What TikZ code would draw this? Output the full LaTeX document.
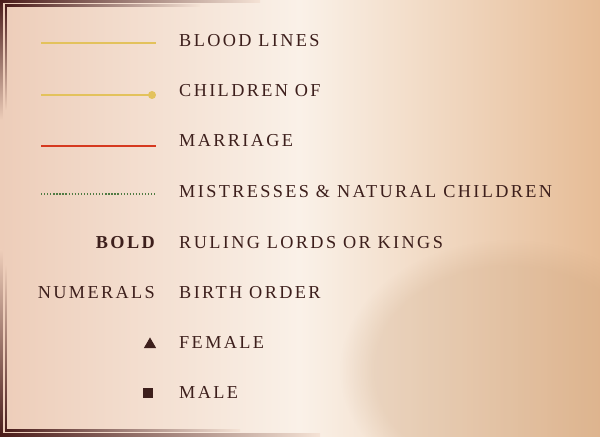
\documentclass[tikz,border=0pt]{standalone}
\usepackage{fontspec}
\usepackage{tikz}
\usetikzlibrary{fadings,shapes.geometric}

\newfontfamily\legendfont{Liberation Serif}[LetterSpace=13]

\definecolor{ink}{HTML}{3D1F1C}
\definecolor{gold}{HTML}{E3C25C}
\definecolor{wed}{HTML}{D6391F}
\definecolor{moss}{HTML}{4F7B43}
\definecolor{framebrown}{HTML}{4A1C1A}
\definecolor{paperL}{HTML}{EDCDB9}
\definecolor{paperM}{HTML}{FAF1E8}
\definecolor{paperR}{HTML}{E6BC96}
\definecolor{stain}{HTML}{C29A74}

\begin{document}
\begin{tikzpicture}[
    x=0.85pt, y=-0.85pt,
    legend/.style={inner sep=0pt, anchor=base west, text=ink,
                   font=\legendfont\fontsize{15.5}{18}\selectfont},
    key/.style={inner sep=0pt, anchor=base east, text=ink,
                font=\legendfont\fontsize{15.5}{18}\selectfont},
    bloodln/.style={gold, line width=2.4pt},
    wedln/.style={wed, line width=2.4pt},
    mistln/.style={moss, line width=1.4pt, dash pattern=on 1.1pt off 1.5pt},
    rimh/.style={left color=framebrown, right color=paperM!60!paperL},
    rimdown/.style={top color=framebrown, bottom color=paperL},
    rimup/.style={top color=paperL, bottom color=framebrown},
]
\useasboundingbox (0,0) rectangle (600,437);

% ── Parchment ─────────────────────────────────────────
\shade[left color=paperL, right color=paperR, middle color=paperM]
    (0,0) rectangle (600,437);
\fill[stain, opacity=0.22, path fading=circle with fuzzy edge 20 percent]
    (510,370) ellipse (170 and 130);

% ── Frame (fading out) ────────────────────────────────
\shade[rimh]    (0,0)   rectangle (260,3);
\shade[rimh]    (5,5)   rectangle (200,6.5);
\shade[rimdown] (0,0)   rectangle (2.5,120);
\shade[rimdown] (5,5)   rectangle (6.5,110);
\shade[rimup]   (0,250) rectangle (2.5,437);
\shade[rimup]   (5,265) rectangle (6.5,431.5);
\shade[rimh]    (0,434) rectangle (320,437);
\shade[rimh]    (5,430) rectangle (240,431.5);

% ── Legend texts ──────────────────────────────────────
\node[legend] (blood)    at (179,47)  {BLOOD LINES};
\node[legend] (children) at (179,97)  {CHILDREN OF};
\node[legend] (marriage) at (179,147) {MARRIAGE};
\node[legend] (mistress) at (179,198) {MISTRESSES \& NATURAL CHILDREN};
\node[legend] (ruling)   at (179,249) {RULING LORDS OR KINGS};
\node[legend] (birth)    at (179,299) {BIRTH ORDER};
\node[legend] (female)   at (179,349) {FEMALE};
\node[legend] (male)     at (179,399) {MALE};

% ── Keys (left column) ────────────────────────────────
\node[key] (boldkey)  at (155,249) {\bfseries BOLD};
\node[key] (numkey)   at (155,299) {NUMERALS};
\node[regular polygon, regular polygon sides=3, fill=ink, inner sep=0pt,
      minimum size=12pt] (femkey) at (150,344.5) {};
\node[rectangle, fill=ink, inner sep=0pt, minimum size=8.5pt]
    (malekey) at (148,393) {};

% ── Line keys ─────────────────────────────────────────
\coordinate (blood-a)    at (41,43);   \coordinate (blood-b)    at (156,43);
\coordinate (children-a) at (41,95);   \coordinate (children-b) at (152,95);
\coordinate (marriage-a) at (41,146);  \coordinate (marriage-b) at (156,146);
\coordinate (mistress-a) at (41,194);  \coordinate (mistress-b) at (157,194);

\draw[bloodln] (blood-a) -- (blood-b);
\draw[bloodln] (children-a) -- (children-b);
\fill[gold] (children-b) circle (4);
\draw[wedln] (marriage-a) -- (marriage-b);
\draw[mistln] (mistress-a) -- (mistress-b);

\end{tikzpicture}
\end{document}
